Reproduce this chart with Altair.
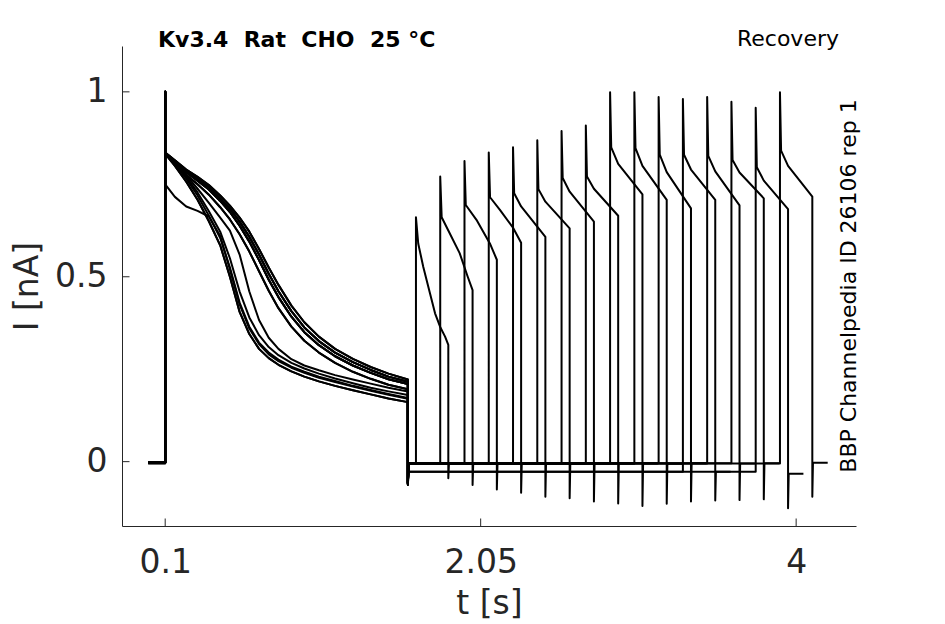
import altair as alt
import pandas as pd

# ---------------- data ----------------
# first pulse (all sweeps), time grid in s
t1 = [0.10, 0.16, 0.23, 0.30, 0.37, 0.44, 0.50, 0.56, 0.62, 0.68,
      0.74, 0.80, 0.88, 0.96, 1.05, 1.15, 1.26, 1.37, 1.48, 1.60]

slow_a = [0.836, 0.815, 0.790, 0.770, 0.748, 0.720, 0.692, 0.660, 0.622, 0.575,
          0.525, 0.478, 0.422, 0.377, 0.338, 0.305, 0.278, 0.256, 0.238, 0.222]
slow_d = [0.835, 0.813, 0.786, 0.765, 0.742, 0.712, 0.684, 0.649, 0.608, 0.560,
          0.508, 0.461, 0.407, 0.363, 0.326, 0.295, 0.269, 0.248, 0.230, 0.216]
slow_b = [0.834, 0.812, 0.783, 0.760, 0.736, 0.705, 0.675, 0.638, 0.595, 0.545,
          0.492, 0.445, 0.392, 0.350, 0.315, 0.285, 0.260, 0.240, 0.223, 0.210]
slow_c = [0.832, 0.808, 0.776, 0.750, 0.722, 0.688, 0.655, 0.615, 0.568, 0.515,
          0.462, 0.415, 0.365, 0.327, 0.295, 0.267, 0.243, 0.224, 0.208, 0.196]
mid_1 = [0.834, 0.810, 0.775, 0.738, 0.700, 0.660, 0.625, 0.560, 0.460, 0.383,
         0.335, 0.305, 0.277, 0.260, 0.247, 0.234, 0.222, 0.211, 0.200, 0.190]
fast_c = [0.834, 0.807, 0.770, 0.728, 0.677, 0.622, 0.550, 0.460, 0.390, 0.342,
          0.310, 0.288, 0.267, 0.252, 0.238, 0.225, 0.212, 0.200, 0.190, 0.180]
fast_b = [0.834, 0.805, 0.765, 0.720, 0.665, 0.605, 0.525, 0.430, 0.365, 0.322,
          0.295, 0.276, 0.257, 0.243, 0.230, 0.218, 0.205, 0.194, 0.183, 0.172]
fast_a = [0.832, 0.800, 0.757, 0.708, 0.650, 0.585, 0.500, 0.405, 0.345, 0.305,
          0.280, 0.262, 0.244, 0.230, 0.217, 0.205, 0.193, 0.182, 0.171, 0.161]
odd_1 = [0.750, 0.716, 0.690, 0.678, 0.663, 0.610, 0.520, 0.425, 0.360, 0.318,
         0.290, 0.272, 0.254, 0.240, 0.227, 0.215, 0.203, 0.192, 0.181, 0.170]

families = {"slow_a": slow_a, "slow_b": slow_b, "slow_c": slow_c, "slow_d": slow_d,
            "mid": mid_1, "fast_a": fast_a, "fast_b": fast_b, "fast_c": fast_c,
            "odd": odd_1}

sweep_family = ["slow_b", "fast_a", "slow_d", "odd", "slow_a", "fast_b", "slow_c", "slow_b",
                "mid", "slow_d", "fast_c", "slow_a", "slow_b", "fast_a", "slow_c", "slow_d"]

pre_t = -0.005
t_on = 0.10
t_off1 = 1.60
t_settle1 = 1.604
settle = 0.004

pre_I = [-0.003, -0.002, -0.003, -0.004, -0.002, -0.003, -0.003, -0.002,
         -0.003, -0.004, -0.002, -0.003, -0.003, -0.002, -0.004, -0.003]
p1_spike = [1.0, 1.0, 1.0, 1.0, 1.0, 1.0, 1.0, 1.0,
            1.0, 1.0, 1.0, 1.0, 1.0, 1.0, 1.0, 1.0]
p1_tail = [-0.060, -0.058, -0.062, -0.055, -0.063, -0.058, -0.060, -0.061,
           -0.057, -0.060, -0.059, -0.062, -0.060, -0.058, -0.063, -0.060]
rec_base = [-0.005, -0.004, -0.006, -0.005, -0.004, -0.006, -0.005, -0.004,
            -0.005, -0.006, -0.004, -0.027, -0.005, -0.004, -0.027, -0.005]

# second (test) pulse
p2_start = [1.65, 1.80, 1.95, 2.10, 2.25, 2.40, 2.55, 2.70,
            2.85, 3.00, 3.15, 3.30, 3.45, 3.60, 3.75, 3.90]
p2_end = [1.85, 2.00, 2.15, 2.30, 2.45, 2.60, 2.75, 2.90,
          3.05, 3.20, 3.35, 3.50, 3.65, 3.80, 3.95, 4.10]
p2_dt = [
    [0.0, 0.014, 0.045, 0.087, 0.118, 0.149, 0.180, 0.200],
    [0.0, 0.009, 0.050, 0.120, 0.170, 0.200],
    [0.0, 0.008, 0.074, 0.157, 0.200],
    [0.0, 0.008, 0.069, 0.151, 0.200],
    [0.0, 0.007, 0.050, 0.200],
    [0.0, 0.007, 0.050, 0.200],
    [0.0, 0.007, 0.050, 0.200],
    [0.0, 0.007, 0.050, 0.200],
    [0.0, 0.007, 0.050, 0.200],
    [0.0, 0.007, 0.050, 0.200],
    [0.0, 0.007, 0.050, 0.200],
    [0.0, 0.007, 0.050, 0.200],
    [0.0, 0.007, 0.050, 0.200],
    [0.0, 0.007, 0.050, 0.200],
    [0.0, 0.007, 0.050, 0.200],
    [0.0, 0.007, 0.050, 0.200],
]
p2_I = [
    [0.661, 0.590, 0.527, 0.455, 0.401, 0.365, 0.338, 0.316],
    [0.771, 0.661, 0.625, 0.564, 0.500, 0.464],
    [0.813, 0.694, 0.654, 0.590, 0.546],
    [0.836, 0.715, 0.681, 0.632, 0.592],
    [0.850, 0.726, 0.690, 0.608],
    [0.869, 0.737, 0.703, 0.631],
    [0.894, 0.767, 0.730, 0.649],
    [0.909, 0.771, 0.738, 0.665],
    [0.999, 0.850, 0.805, 0.723],
    [0.999, 0.848, 0.800, 0.708],
    [0.986, 0.830, 0.783, 0.685],
    [0.981, 0.830, 0.790, 0.708],
    [0.986, 0.827, 0.785, 0.693],
    [0.973, 0.816, 0.782, 0.712],
    [0.957, 0.796, 0.760, 0.683],
    [0.999, 0.841, 0.800, 0.717],
]
p2_tail = [-0.045, -0.063, -0.075, -0.084, -0.095, -0.099, -0.108, -0.113,
           -0.120, -0.114, -0.108, -0.105, -0.104, -0.102, -0.126, -0.095]
post_end = [1.945, 2.095, 2.245, 2.395, 2.545, 2.695, 2.845, 2.995,
            3.145, 3.295, 3.445, 3.595, 3.745, 3.895, 4.045, 4.195]
post_base = [-0.005, -0.004, -0.006, -0.005, -0.004, -0.006, -0.005, -0.004,
             -0.005, -0.006, -0.004, -0.027, -0.005, -0.004, -0.033, -0.003]

x_ticks = [0.1, 2.05, 4]
y_ticks = [0, 0.5, 1]

# ---------------- build table ----------------
rows = []
for k in range(16):
    pts = [(pre_t, pre_I[k]), (t_on, pre_I[k]), (t_on, p1_spike[k])]
    pts += list(zip(t1, families[sweep_family[k]]))
    pts += [(t_off1, p1_tail[k]), (t_settle1, rec_base[k]), (p2_start[k], rec_base[k])]
    pts += [(p2_start[k] + dt, v) for dt, v in zip(p2_dt[k], p2_I[k])]
    pts += [(p2_end[k], p2_tail[k]), (p2_end[k] + settle, post_base[k]),
            (post_end[k], post_base[k])]
    for i, (t, v) in enumerate(pts):
        rows.append({"sweep": k, "i": i, "t": t, "I": v})
df = pd.DataFrame(rows)

AX = "#262626"
FONT = "DejaVu Sans"
W, H = 734, 480

xscale = alt.Scale(domain=[-0.167, 4.37], nice=False, zero=False)
yscale = alt.Scale(domain=[-0.174, 1.124], nice=False, zero=False)

x_axis = alt.Axis(values=x_ticks, labelExpr="toString(datum.value)", title="t [s]",
                  ticks=False, tickSize=0,
                  grid=False, domainColor=AX, domainWidth=1, labelColor=AX,
                  labelFontSize=33, labelFont=FONT, labelPadding=20, labelFlush=False,
                  titleFontSize=33, titleFont=FONT, titleFontWeight="normal",
                  titleColor=AX, titlePadding=8)
y_axis = alt.Axis(values=y_ticks, labelExpr="toString(datum.value)", title="I [nA]",
                  ticks=False, tickSize=0,
                  grid=False, domainColor=AX, domainWidth=1, labelColor=AX,
                  labelFontSize=33, labelFont=FONT, labelPadding=15,
                  titleFontSize=33, titleFont=FONT, titleFontWeight="normal",
                  titleColor=AX, titlePadding=10)

traces = alt.Chart(df).mark_line(color="black", strokeWidth=2, strokeJoin="round").encode(
    x=alt.X("t:Q", scale=xscale, axis=x_axis),
    y=alt.Y("I:Q", scale=yscale, axis=y_axis),
    detail="sweep:N",
    order="i:Q",
)

xt = alt.Chart(pd.DataFrame({"t": x_ticks})).mark_rule(color=AX, strokeWidth=1).encode(
    x=alt.X("t:Q", scale=xscale, axis=x_axis), y=alt.value(H), y2=alt.value(H - 7.5))
yt = alt.Chart(pd.DataFrame({"I": y_ticks})).mark_rule(color=AX, strokeWidth=1).encode(
    y=alt.Y("I:Q", scale=yscale, axis=y_axis), x=alt.value(0), x2=alt.value(7.5))

txt = pd.DataFrame({"s": ["Kv3.4\u00a0\u00a0Rat\u00a0\u00a0CHO\u00a0\u00a025\u00a0°C"]})
title = alt.Chart(txt).mark_text(font=FONT, fontSize=22, fontWeight="bold", color="black",
                                 align="left", baseline="alphabetic").encode(
    text="s:N", x=alt.value(36), y=alt.value(1))
rec = alt.Chart(pd.DataFrame({"s": ["Recovery"]})).mark_text(
    font=FONT, fontSize=22, color="black", align="right", baseline="alphabetic").encode(
    text="s:N", x=alt.value(717), y=alt.value(0))
side = alt.Chart(pd.DataFrame({"s": ["BBP Channelpedia ID 26106 rep 1"]})).mark_text(
    font=FONT, fontSize=22, color="black", align="center", baseline="alphabetic", angle=270).encode(
    text="s:N", x=alt.value(734), y=alt.value(240))

chart = alt.layer(traces, xt, yt, title, rec, side).properties(
    width=W, height=H,
    autosize=alt.AutoSizeParams(type="none"),
    padding={"left": 114, "top": 38, "right": 80, "bottom": 98},
    background="white",
).configure(font=FONT).configure_view(stroke=None)

chart.save("out.html", embed_options={"renderer": "svg", "actions": False})
